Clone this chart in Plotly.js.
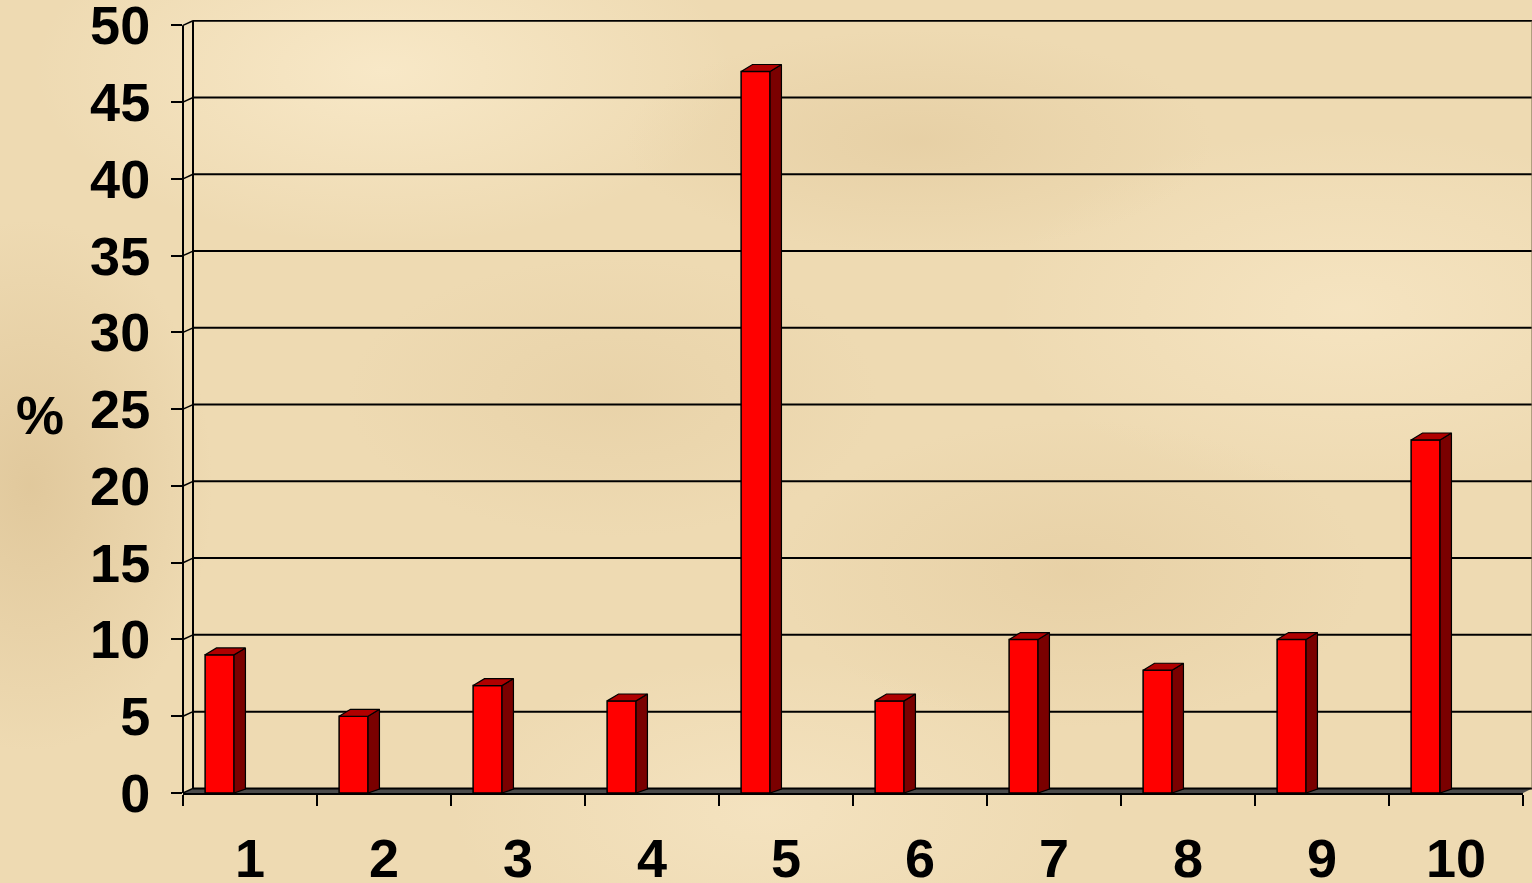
<!DOCTYPE html>
<html><head><meta charset="utf-8">
<script src="https://cdn.plot.ly/plotly-3.0.1.min.js"></script>
<style>
html,body{margin:0;padding:0;width:1532px;height:883px;overflow:hidden;}
body{
background:
 radial-gradient(ellipse 260px 380px at 2% 55%, rgba(214,186,138,0.55), rgba(214,186,138,0) 70%),
 radial-gradient(ellipse 420px 160px at 60% 16%, rgba(222,196,150,0.45), rgba(222,196,150,0) 70%),
 radial-gradient(ellipse 380px 200px at 40% 45%, rgba(226,202,158,0.45), rgba(226,202,158,0) 70%),
 radial-gradient(ellipse 420px 220px at 70% 65%, rgba(224,198,152,0.45), rgba(224,198,152,0) 70%),
 radial-gradient(ellipse 500px 250px at 25% 8%, rgba(252,238,208,0.7), rgba(252,238,208,0) 70%),
 radial-gradient(ellipse 500px 260px at 88% 35%, rgba(250,234,202,0.6), rgba(250,234,202,0) 70%),
 radial-gradient(ellipse 450px 220px at 50% 92%, rgba(248,232,200,0.6), rgba(248,232,200,0) 70%),
 #EEDAB2;
}
#chart{width:1532px;height:883px;}
</style></head><body><div id="chart"></div>
<script>
const categories = ['1','2','3','4','5','6','7','8','9','10'];
const percentValues = [9, 5, 7, 6, 47, 6, 10, 8, 10, 23];
const yTickValues = [0, 5, 10, 15, 20, 25, 30, 35, 40, 45, 50];
const yTickLabels = ['0','5','10','15','20','25','30','35','40','45','50'];
const yAxisLabel = '%';

// geometry of the pseudo-3D look (style, not data)
const FRONT_OFFSET = -0.335, FRONT_W = 0.216, DX = 0.085, DY = 0.45, DY_BOTTOM = 0.25;
const WALL_DX = 10 / 1340, WALL_DY = 0.3, RIGHT_EDGE = 1.0067;

const xPos = categories.map((c, i) => i + 1);
const boundaries = [0.5].concat(xPos.map(x => x + 0.5));

const sideX = [], sideY = [], topX = [], topY = [];
xPos.forEach((xc, i) => {
  const v = percentValues[i];
  const x0 = xc + FRONT_OFFSET, x1 = x0 + FRONT_W;
  sideX.push(x1, x1 + DX, x1 + DX, x1, x1, null);
  sideY.push(0, DY_BOTTOM, v + DY, v, 0, null);
  topX.push(x0, x0 + DX, x1 + DX, x1, x0, null);
  topY.push(v, v + DY, v + DY, v, v, null);
});

const traces = [
  { type: 'bar', x: xPos, y: percentValues, base: 0, offset: FRONT_OFFSET, width: FRONT_W,
    marker: { color: '#FF0000', line: { color: '#000000', width: 1.5 } }, hoverinfo: 'y', showlegend: false },
  { type: 'scatter', mode: 'lines', x: sideX, y: sideY, fill: 'toself', fillcolor: '#7A0000',
    line: { color: '#000000', width: 1.2 }, hoverinfo: 'skip', showlegend: false },
  { type: 'scatter', mode: 'lines', x: topX, y: topY, fill: 'toself', fillcolor: '#B00000',
    line: { color: '#000000', width: 1.2 }, hoverinfo: 'skip', showlegend: false }
];

const shapes = [];
shapes.push({ type: 'path', xref: 'paper', yref: 'y', layer: 'below',
  path: `M 0 0 L 1 0 L ${RIGHT_EDGE} ${WALL_DY} L ${WALL_DX} ${WALL_DY} Z`,
  fillcolor: '#4A4A4A', line: { width: 0 } });
yTickValues.forEach(v => {
  shapes.push({ type: 'line', xref: 'paper', yref: 'y', layer: 'below',
    x0: WALL_DX, x1: RIGHT_EDGE, y0: v + WALL_DY, y1: v + WALL_DY, line: { color: '#000', width: 2 } });
  shapes.push({ type: 'line', xref: 'paper', yref: 'y', layer: 'below',
    x0: 0, x1: WALL_DX, y0: v, y1: v + WALL_DY, line: { color: '#000', width: 1.5 } });
});
shapes.push({ type: 'line', xref: 'paper', yref: 'y', layer: 'below',
  x0: WALL_DX, x1: WALL_DX, y0: WALL_DY, y1: 50 + WALL_DY, line: { color: '#000', width: 2 } });
shapes.push({ type: 'line', xref: 'paper', yref: 'y', layer: 'below',
  x0: 0, x1: 0, y0: 0, y1: 50, line: { color: '#000', width: 2 } });
shapes.push({ type: 'line', xref: 'paper', yref: 'y', layer: 'below',
  x0: RIGHT_EDGE, x1: RIGHT_EDGE, y0: WALL_DY, y1: 50 + WALL_DY, line: { color: '#7a6a50', width: 1 } });

const font = { family: 'Liberation Sans, Arial, sans-serif', size: 54, color: '#000000', weight: 'bold' };

const layout = {
  width: 1532, height: 883,
  margin: { l: 183, r: 9, t: 20, b: 90 },
  paper_bgcolor: 'rgba(0,0,0,0)', plot_bgcolor: 'rgba(0,0,0,0)',
  showlegend: false,
  xaxis: {
    type: 'linear', range: [0.5, 10.5], tickvals: xPos, ticktext: categories, ticks: '',
    showgrid: false, zeroline: false, showline: true, linecolor: '#000', linewidth: 2,
    tickfont: font, ticklabelstandoff: 17, ticklabeloverflow: 'allow',
    minor: { tickvals: boundaries, ticks: 'outside', ticklen: 11, tickwidth: 2, tickcolor: '#000', showgrid: false }
  },
  yaxis: {
    range: [0, 50.35], tickvals: yTickValues, ticktext: yTickLabels,
    ticks: 'outside', ticklen: 11, tickwidth: 2, tickcolor: '#000',
    showgrid: false, zeroline: false, showline: false,
    tickfont: font, ticklabelstandoff: 10, ticklabeloverflow: 'allow'
  },
  shapes: shapes,
  annotations: [{ text: yAxisLabel, xref: 'paper', yref: 'paper', x: -0.1067, y: 0.489,
    xanchor: 'center', yanchor: 'middle', showarrow: false, font: font }]
};

Plotly.newPlot('chart', traces, layout, { displayModeBar: false, staticPlot: true });
</script></body></html>
